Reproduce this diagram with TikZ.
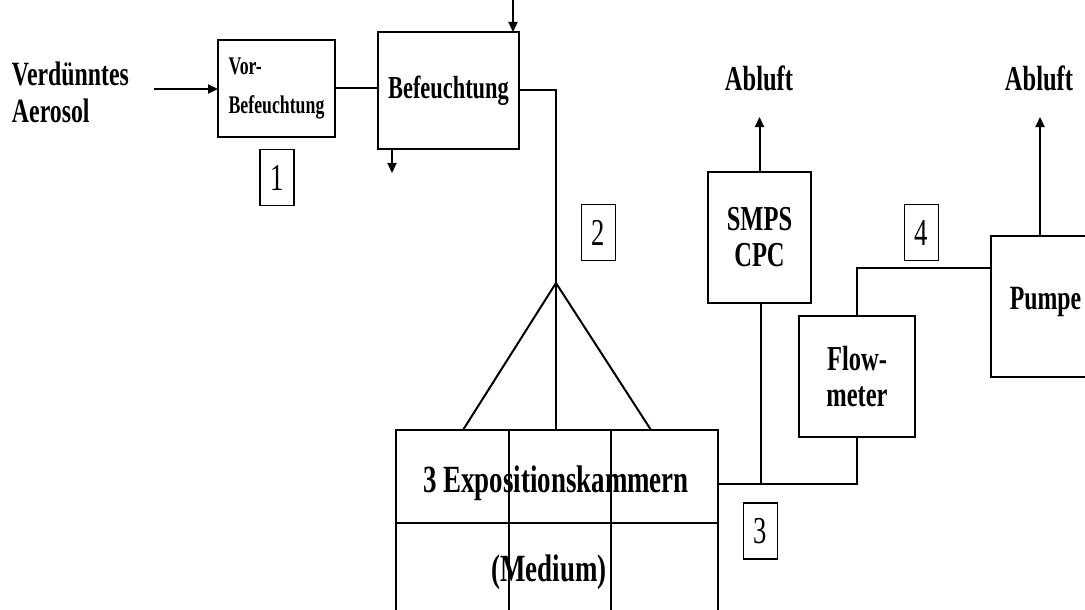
\documentclass[tikz,border=0pt]{standalone}
\usepackage{fontspec}
\setmainfont{Liberation Serif}[FakeStretch=0.7]
\usetikzlibrary{arrows.meta}
\newcommand\fLab{\fontsize{35}{36}\selectfont\bfseries}
\newcommand\fNum{\fontsize{38}{40}\selectfont}
\begin{document}
\begin{tikzpicture}[x=1pt,y=-1pt,
  every node/.style={inner sep=0pt, outer sep=0pt},
  box/.style={draw, line width=2pt, align=center, font=\fLab},
  numbox/.style={draw, line width=1.6pt, minimum width=34pt, minimum height=56pt, font=\fNum},
  ln/.style={line width=2pt},
  arr/.style={line width=2pt, -{Triangle[length=10pt,width=9pt]}},
  lbl/.style={font=\fLab, align=center}
]
\clip (0,0) rectangle (1085,610);
\fill[white] (0,0) rectangle (1085,610);

% source text
\node[lbl, font=\fontsize{34}{37}\selectfont\bfseries, align=left, anchor=west] (src) at (12,92) {Verdünntes\\Aerosol};
\coordinate (inS) at (154,89);

% boxes
\node[box, align=left, font=\fontsize{25.4}{39}\selectfont\bfseries, minimum width=117pt, minimum height=97pt] (vor) at (276.5,88.5) {Vor-\\Befeuchtung};
\node[box, font=\fontsize{32}{34}\selectfont\bfseries, minimum width=141pt, minimum height=117pt] (bef) at (448.5,90.5) {Befeuchtung};
\node[box, minimum width=103pt, minimum height=131pt] (smps) at (759.5,237.5) {SMPS\\CPC};
\node[box, minimum width=116pt, minimum height=121pt] (flow) at (857,376.5) {Flow-\\meter};
\node[box, font=\fontsize{34}{36}\selectfont\bfseries, text height=15pt, text depth=10pt, minimum width=109pt, minimum height=141pt] (pumpe) at (1045.5,306.5) {Pumpe};
\node[draw, line width=2pt, minimum width=322pt, minimum height=186pt] (chamb) at (557,523) {};
\node[lbl, font=\fontsize{38.5}{40}\selectfont\bfseries] (chtxt) at (556,483) {3 Expositionskammern};
\node[lbl, font=\fontsize{38.5}{40}\selectfont\bfseries] (medtxt) at (549,572) {(Medium)};

% chamber dividers
\draw[ln] (396,523) -- (718,523);
\draw[ln] (509,430) -- (509,616);
\draw[ln] (611,430) -- (611,616);

% number boxes
\node[numbox] (n1) at (277,177.5) {1};
\node[numbox] (n2) at (598.5,232.5) {2};
\node[numbox] (n3) at (760.5,531) {3};
\node[numbox] (n4) at (921.5,232.5) {4};

% Abluft labels
\node[lbl] (ab1) at (759,78) {Abluft};
\node[lbl] (ab2) at (1039,78) {Abluft};

% connectors
\draw[arr] (inS) -- (inS -| vor.west);
\draw[ln] (vor.east) -- (vor.east -| bef.west);
\coordinate (topin) at (513,0);
\draw[arr] (topin) -- (topin |- bef.north);
\coordinate (botout) at (392,173);
\draw[arr] (botout |- bef.south) -- (botout);

\coordinate (apex) at (556,283);
\draw[ln] (bef.east) -- (apex |- bef.east) -- (apex);
\draw[ln] (apex) -- (463,430);
\draw[ln] (apex) -- (apex |- chamb.north);
\draw[ln] (apex) -- (651,430);

\coordinate (junc) at (761,484);
\draw[ln] (chamb.east |- junc) -- (flow.south |- junc) -- (flow.south);
\draw[ln] (junc) -- (junc |- smps.south);

\coordinate (fl) at (856,268);
\draw[ln] (flow.north) -- (flow.north |- fl) -- (fl -| pumpe.west);

\draw[arr] (smps.north) -- (smps.north |- 0,117);
\coordinate (pt) at (1040,236);
\draw[arr] (pt) -- (1040,117);
\end{tikzpicture}
\end{document}
